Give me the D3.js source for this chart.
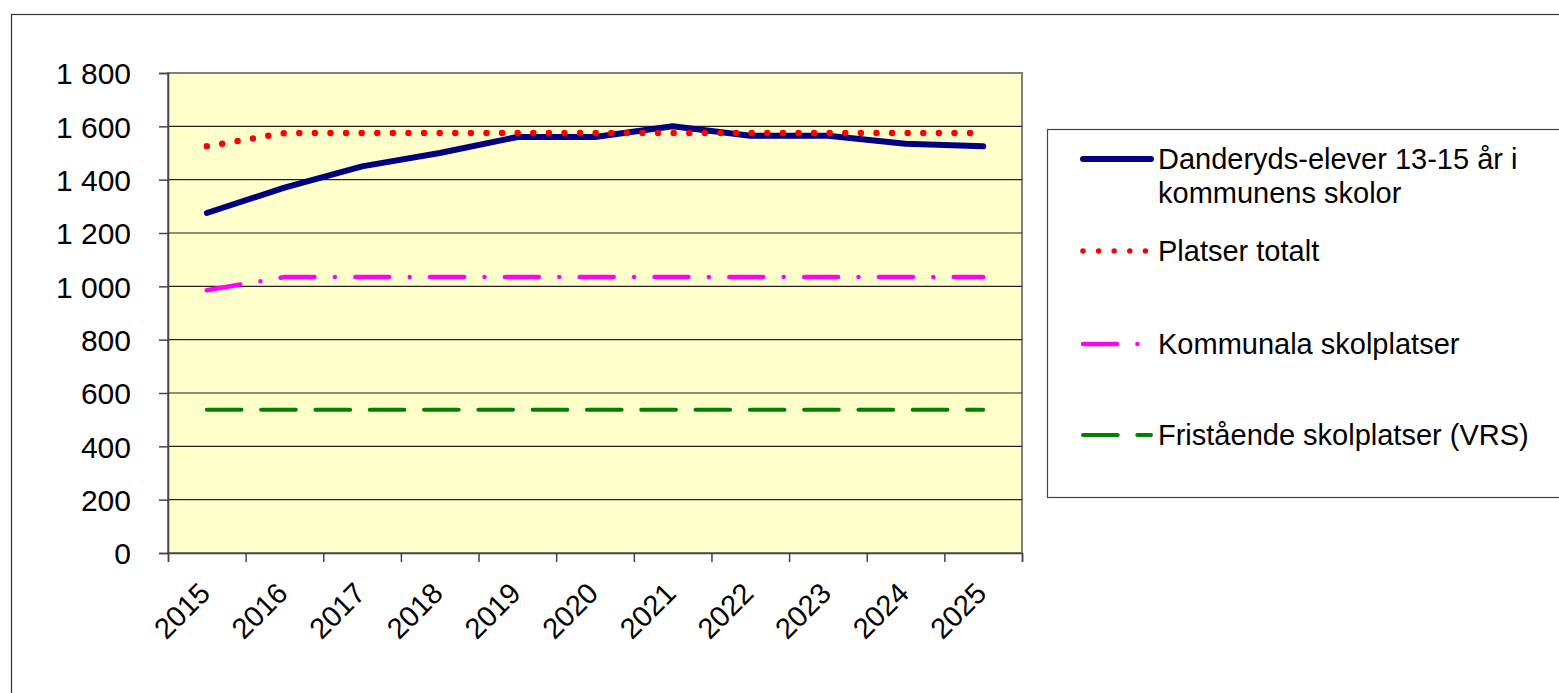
<!DOCTYPE html>
<html>
<head>
<meta charset="utf-8">
<script src="https://cdn.jsdelivr.net/npm/d3@7"></script>
<style>
  body { margin: 0; background: #fff; }
  text { font-family: "Liberation Sans", Arial, sans-serif; font-size: 29px; fill: #000; }
  .ylab text { font-size: 30px; }
</style>
</head>
<body>
<main></main>
<script>
// data
var years = ["2015", "2016", "2017", "2018", "2019", "2020", "2021", "2022", "2023", "2024", "2025"];
var elever = [1275, 1370, 1450, 1500, 1560, 1560, 1600, 1565, 1565, 1535, 1525];
var platserTotalt = [1525, 1575, 1575, 1575, 1575, 1575, 1575, 1575, 1575, 1575, 1575];
var kommunala = [985, 1035, 1035, 1035, 1035, 1035, 1035, 1035, 1035, 1035, 1035];
var fristaende = [537, 537, 537, 537, 537, 537, 537, 537, 537, 537, 537];
var yTicks = [0, 200, 400, 600, 800, 1000, 1200, 1400, 1600, 1800];
var seriesNames = ["Danderyds-elever 13-15 år i|kommunens skolor", "Platser totalt", "Kommunala skolplatser", "Fristående skolplatser (VRS)"];

var w = 1559, h = 693;
var plot = { left: 168, right: 1022, top: 73, bottom: 553 };

var svg = d3.select("main")
            .append("svg")
            .attr("width", w)
            .attr("height", h)
            .style("display", "block");

// outer chart frame
svg.append("rect")
   .attr("x", 11.5).attr("y", 14.5)
   .attr("width", 1600).attr("height", 700)
   .attr("fill", "none")
   .attr("stroke", "#333")
   .attr("stroke-width", 1.2);

var x = d3.scaleBand()
          .domain(years)
          .range([plot.left, plot.right]);
var xEdge = d3.scaleLinear()
              .domain([0, years.length])
              .range([plot.left, plot.right]);
var y = d3.scaleLinear()
          .domain([0, 1800])
          .range([plot.bottom, plot.top]);

svg.append("rect")
   .attr("x", plot.left).attr("y", plot.top)
   .attr("width", plot.right - plot.left)
   .attr("height", plot.bottom - plot.top)
   .attr("fill", "#FFFFCC")
   .attr("stroke", "#808080")
   .attr("stroke-width", 2);

svg.append("g")
   .selectAll("line")
   .data(yTicks.filter(function(d){ return d > 0 && d < 1800; }))
   .enter()
   .append("line")
   .attr("x1", plot.left).attr("x2", plot.right)
   .attr("y1", function(d){ return y(d); })
   .attr("y2", function(d){ return y(d); })
   .attr("stroke", "#222")
   .attr("stroke-width", 1.2);

function fmt(d) {
  if (d >= 1000) return Math.floor(d / 1000) + " " + String(d % 1000).padStart(3, "0");
  return String(d);
}

var yAxis = svg.append("g")
               .attr("class", "ylab")
               .attr("transform", "translate(" + plot.left + ",0)")
               .call(d3.axisLeft(y).tickValues(yTicks).tickSize(9).tickPadding(28).tickFormat(fmt));
yAxis.selectAll("text").attr("font-size", null).attr("font-family", null).attr("dy", "0.36em");
yAxis.selectAll("line, path").attr("stroke", "#444").attr("stroke-width", 1.5);

var xAxis = svg.append("g")
               .attr("transform", "translate(0," + plot.bottom + ")")
               .call(d3.axisBottom(xEdge).tickValues(d3.range(years.length + 1)).tickSize(9).tickFormat(""));
xAxis.selectAll("line, path").attr("stroke", "#444").attr("stroke-width", 1.5);

svg.append("g")
   .selectAll("text")
   .data(years)
   .enter()
   .append("text")
   .attr("text-anchor", "end")
   .attr("transform", function(d){
     return "translate(" + (x(d) + x.bandwidth() / 2 + 5) + ",595) rotate(-45)";
   })
   .text(function(d){ return d; });

var styles = [
  { color: "#000080", width: 6, dash: null },
  { color: "#FF0000", width: 6.5, dash: "0 15.6" },
  { color: "#FF00FF", width: 4.5, dash: "34 20.4 0 20.4" },
  { color: "#008000", width: 4, dash: "34.7 19.6" }
];
var allSeries = [elever, platserTotalt, kommunala, fristaende];

var line = d3.line()
             .x(function(d, i){ return x(years[i]) + x.bandwidth() / 2; })
             .y(function(d){ return y(d); });

svg.append("g")
   .selectAll("path")
   .data(allSeries)
   .enter()
   .append("path")
   .attr("d", line)
   .attr("fill", "none")
   .attr("stroke", function(d, i){ return styles[i].color; })
   .attr("stroke-width", function(d, i){ return styles[i].width; })
   .attr("stroke-dasharray", function(d, i){ return styles[i].dash; })
   .attr("stroke-linecap", "round")
   .attr("stroke-linejoin", "round");

// legend
svg.append("rect")
   .attr("x", 1047.5).attr("y", 129.5)
   .attr("width", 600).attr("height", 368)
   .attr("fill", "#fff")
   .attr("stroke", "#444")
   .attr("stroke-width", 1.2);

var legendY = [159, 251, 344, 435];
var leg = svg.append("g")
             .selectAll("g")
             .data(seriesNames)
             .enter()
             .append("g")
             .attr("transform", function(d, i){ return "translate(0," + legendY[i] + ")"; });

leg.append("line")
   .attr("x1", 1083).attr("x2", 1151)
   .attr("stroke", function(d, i){ return styles[i].color; })
   .attr("stroke-width", function(d, i){ return i == 1 ? 5.5 : styles[i].width; })
   .attr("stroke-dasharray", function(d, i){ return styles[i].dash; })
   .attr("stroke-linecap", "round");

leg.append("text")
   .attr("x", 1158)
   .each(function(d){
     var parts = d.split("|");
     var t = d3.select(this);
     parts.forEach(function(p, j){
       t.append("tspan")
        .attr("x", 1158)
        .attr("dy", j == 0 ? "0.36em" : "1.17em")
        .text(p);
     });
   });
</script>
</body>
</html>
